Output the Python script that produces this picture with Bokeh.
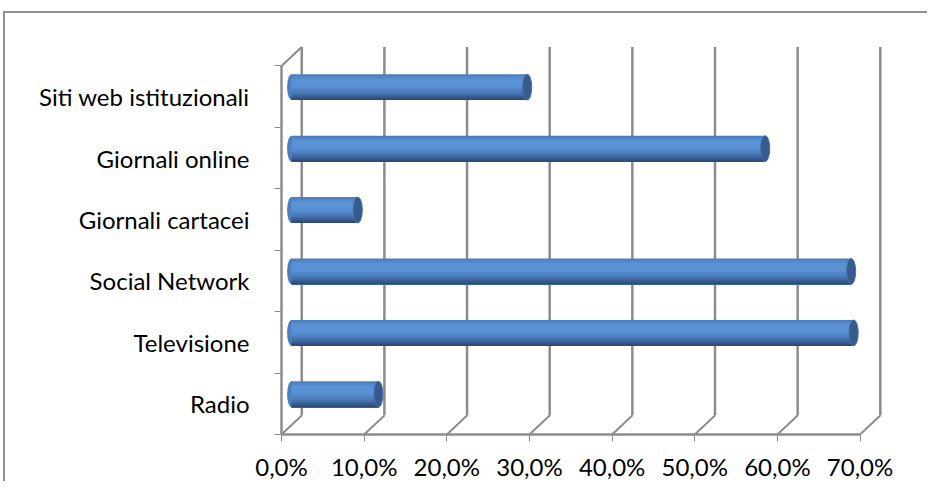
from bokeh.plotting import figure
from bokeh.models import Range1d, FixedTicker
from bokeh.embed import file_html
from bokeh.resources import INLINE

# ---- data (bottom to top) ----
categories = ["Radio", "Televisione", "Social Network", "Giornali cartacei",
              "Giornali online", "Siti web istituzionali"]
values = [10.5, 68.0, 67.7, 8.0, 57.3, 28.5]
x_ticks = [0, 10, 20, 30, 40, 50, 60, 70]
x_tick_labels = ["0,0%", "10,0%", "20,0%", "30,0%", "40,0%", "50,0%", "60,0%", "70,0%"]

# ---- styling constants ----
DX, DY = 2.45, 0.31        # 3-D depth offset (x in %, y in category units)
BAR_H = 0.42
CAP_W = 1.1
N_STRIPS = 18
GRID = "#8c8c8c"
FONT = "Lato"
FSIZE = "24px"

n = len(categories)
p = figure(width=924, height=470,
           x_range=Range1d(0, 73.2), y_range=Range1d(0, n + 0.35),
           output_backend="svg", toolbar_location=None,
           min_border_left=276, min_border_right=43,
           min_border_top=31, min_border_bottom=49)
p.outline_line_color = None
p.grid.visible = False
p.background_fill_color = "white"
p.styles = {"border-left": "2px solid #909090", "border-top": "2px solid #909090",
            "margin-top": "11px", "margin-left": "3px"}

# back wall vertical lines
p.segment(x0=[t + DX for t in x_ticks], y0=[DY] * len(x_ticks),
          x1=[t + DX for t in x_ticks], y1=[n + DY] * len(x_ticks),
          line_color=GRID, line_width=2.5)
# floor diagonals
p.segment(x0=x_ticks, y0=[0] * len(x_ticks),
          x1=[t + DX for t in x_ticks], y1=[DY] * len(x_ticks),
          line_color=GRID, line_width=2)
# left wall top diagonal
p.segment(x0=[0], y0=[n], x1=[DX], y1=[n + DY], line_color=GRID, line_width=2)


def hexrgb(h):
    h = h.lstrip("#")
    return tuple(int(h[i:i + 2], 16) for i in (0, 2, 4))


stops = [(0.0, "#4a7bbb"), (0.2, "#5a92d6"), (0.45, "#5b91d4"),
         (0.7, "#4a7aba"), (0.88, "#375b8d"), (1.0, "#29456d")]


def grad(f):
    for (a, ca), (b, cb) in zip(stops[:-1], stops[1:]):
        if a <= f <= b:
            t = (f - a) / (b - a)
            ra, rb = hexrgb(ca), hexrgb(cb)
            return "#%02x%02x%02x" % tuple(int(round(ra[i] + (rb[i] - ra[i]) * t)) for i in range(3))
    return stops[-1][1]


ys = [i + 0.5 + DY / 2 for i in range(n)]
x0 = DX / 2
ends = [v + DX / 2 for v in values]

# left rounded end
p.ellipse(x=[x0] * n, y=ys, width=CAP_W, height=BAR_H,
          fill_color="#4c7ebf", line_color=None)
# cylinder body: strips painted top to bottom, each reaching the bar bottom (no seams)
sh = BAR_H / N_STRIPS
for k in range(N_STRIPS):
    f = (k + 0.5) / N_STRIPS
    top = [y + BAR_H / 2 - k * sh for y in ys]
    bottom = [y - BAR_H / 2 for y in ys]
    p.quad(left=x0, right=ends, top=top, bottom=bottom,
           fill_color=grad(f), line_color=None)
# right end cap
p.ellipse(x=ends, y=ys, width=CAP_W, height=BAR_H,
          fill_color="#375b8c", line_color="#4670a6", line_width=1)

# ---- axes ----
xa = p.xaxis[0]
xa.ticker = FixedTicker(ticks=x_ticks, minor_ticks=[])
xa.bounds = (0, 70)
xa.major_label_overrides = {t: l for t, l in zip(x_ticks, x_tick_labels)}
xa.major_tick_out = 7
xa.major_tick_in = 0
xa.major_tick_line_color = GRID
xa.axis_line_color = GRID
xa.axis_line_width = 2.5
xa.major_label_text_font = FONT
xa.major_label_text_font_size = FSIZE
xa.major_label_text_color = "black"
xa.major_label_standoff = 10

ya = p.yaxis[0]
ya.ticker = FixedTicker(ticks=[i + 0.5 for i in range(n)], minor_ticks=list(range(n + 1)))
ya.bounds = (0, n)
ya.major_label_overrides = {i + 0.5: c for i, c in enumerate(categories)}
ya.major_tick_out = 0
ya.major_tick_in = 0
ya.minor_tick_out = 7
ya.minor_tick_in = 0
ya.minor_tick_line_color = GRID
ya.axis_line_color = GRID
ya.axis_line_width = 2.5
ya.major_label_text_font = FONT
ya.major_label_text_font_size = FSIZE
ya.major_label_text_color = "black"
ya.major_label_standoff = 25

open("out.html", "w").write(file_html(p, INLINE))
